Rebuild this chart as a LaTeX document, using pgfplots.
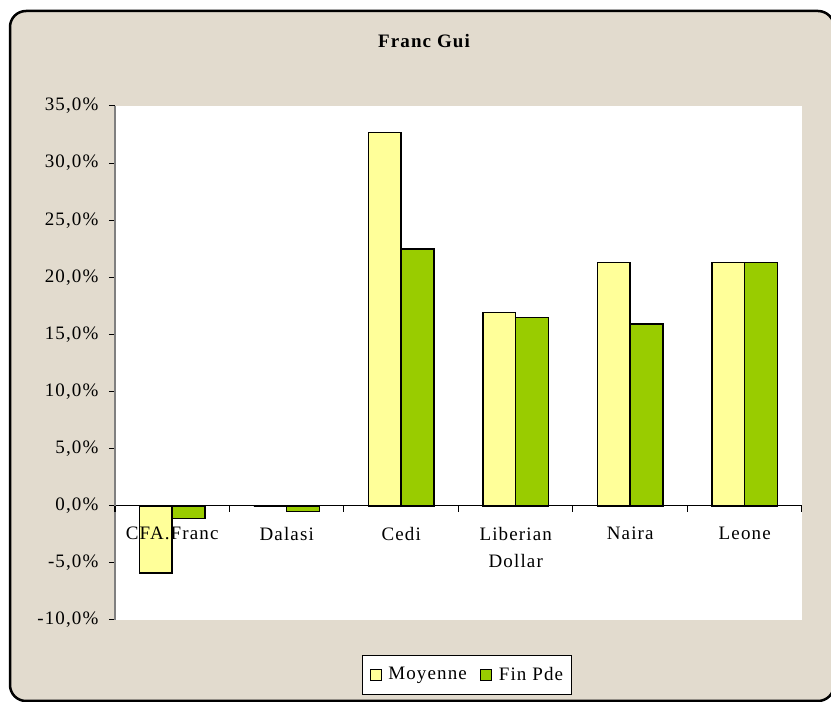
\documentclass[border=0pt]{standalone}
\usepackage{fontspec}
\setmainfont[LetterSpace=6]{Liberation Serif}
\usepackage{pgfplots}
\pgfplotsset{compat=1.18}

\definecolor{bgbeige}{RGB}{226,219,206}
\definecolor{moy}{RGB}{255,255,153}
\definecolor{fin}{RGB}{153,204,0}

\pgfplotsset{
  sqlegend/.style={legend image code/.code={
    \draw[##1, draw=black, line width=1.2pt] (0pt,-5.5pt) rectangle (11pt,5.5pt);
    \path[draw=none, fill=none] (-2pt,0pt) rectangle (16pt,0.1pt);}},
}

\begin{document}
\fontsize{19}{27}\selectfont
\begin{tikzpicture}[x=1pt,y=1pt]
\useasboundingbox (0,0) rectangle (831,702);
\clip (0,0) rectangle (831,702);
\filldraw[fill=bgbeige, draw=black, line width=2.5pt, rounded corners=16pt] (10,1) rectangle (834,691);
\node[font=\bfseries] at (424,661) {Franc Gui};

\begin{axis}[
  at={(115pt,82pt)}, anchor=south west,
  width=687pt, height=514pt, scale only axis,
  axis background/.style={fill=white},
  axis on top,
  ybar=0pt, bar width=0.288,
  xmin=-0.5, xmax=5.5, ymin=-10, ymax=35,
  axis y line=left, axis x line=middle,
  axis line style={-},
  y axis line style={draw=gray, line width=1.5pt},
  x axis line style={draw=black, line width=1pt},
  tick align=outside, major tick length=6pt,
  xtick={0,...,5},
  xticklabels={CFA.Franc, Dalasi, Cedi, {Liberian\\Dollar}, Naira, Leone},
  xticklabel style={align=center, anchor=north, yshift=-9pt},
  x tick style={draw=none},
  extra x ticks={-0.5,0.5,1.5,2.5,3.5,4.5,5.5},
  extra x tick labels={},
  extra x tick style={x tick style={draw=black, line width=1pt}},
  ytick={-10,-5,...,35},
  y tick style={draw=black, line width=1pt},
  yticklabel={\pgfmathprintnumber{\tick}\%},
  yticklabel style={xshift=-4pt},
  /pgf/number format/.cd, fixed, fixed zerofill, precision=1, use comma, assume math mode=true,
  /pgfplots/.cd,
  legend style={at={(axis description cs:0.512,-0.107)}, anchor=center,
    legend columns=2, draw=black, line width=1pt, fill=white,
    inner xsep=6pt, inner ysep=9pt,
    /tikz/every even column/.append style={column sep=10pt}},
]

% Moyenne
\addplot[fill=moy, draw=black, line width=1.5pt, sqlegend] coordinates {
  (0,-5.9) (1,0) (2,32.7) (3,16.9) (4,21.3) (5,21.3)
};
\addlegendentry{Moyenne}

% Fin Pde
\addplot[fill=fin, draw=black, line width=1.5pt, sqlegend] coordinates {
  (0,-1.1) (1,-0.5) (2,22.5) (3,16.5) (4,15.9) (5,21.3)
};
\addlegendentry{Fin Pde}

\end{axis}
\end{tikzpicture}
\end{document}
